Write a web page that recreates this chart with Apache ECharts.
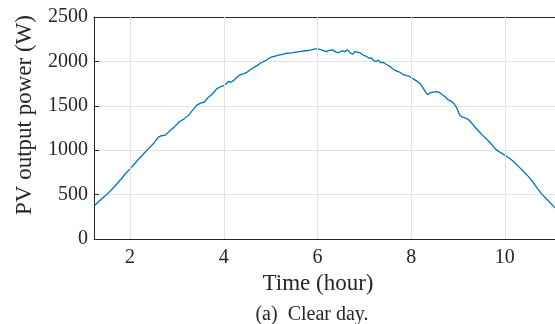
<!DOCTYPE html>
<html>
<head>
<meta charset="utf-8">
<script src="https://cdn.jsdelivr.net/npm/echarts@6/dist/echarts.min.js"></script>
<style>html,body{margin:0;padding:0;background:#fff;}#c{width:555px;height:324px;}</style>
</head>
<body>
<div id="c"></div>
<script>
var xTicks = [2, 4, 6, 8, 10];
var yTicks = [0, 500, 1000, 1500, 2000, 2500];
var times = [1.23,1.35,1.5,1.65,1.8,1.9,2.0,2.1,2.2,2.3,2.4,2.5,2.6,2.65,2.75,2.85,2.95,3.05,3.15,3.25,3.35,3.42,3.5,3.58,3.66,3.75,3.85,3.95,4.0,4.05,4.1,4.15,4.2,4.27,4.35,4.42,4.5,4.6,4.7,4.8,4.88,4.95,5.0,5.03,5.06,5.15,5.25,5.35,5.45,5.55,5.65,5.75,5.85,5.95,6.0,6.05,6.12,6.18,6.25,6.32,6.4,6.46,6.52,6.58,6.64,6.7,6.75,6.8,6.84,6.9,6.96,7.03,7.1,7.15,7.2,7.25,7.3,7.35,7.4,7.47,7.53,7.6,7.67,7.75,7.82,7.9,7.95,8.0,8.07,8.14,8.2,8.25,8.3,8.35,8.4,8.47,8.55,8.6,8.65,8.72,8.78,8.85,8.92,8.97,9.03,9.08,9.15,9.22,9.3,9.38,9.46,9.52,9.6,9.7,9.8,9.9,10.0,10.08,10.16,10.23,10.3,10.4,10.5,10.6,10.7,10.8,10.9,11.0,11.07];
var power = [372,430,500,580,670,735,790,850,910,965,1020,1075,1145,1160,1170,1220,1265,1320,1350,1395,1460,1505,1530,1540,1590,1630,1690,1720,1728,1745,1775,1765,1780,1815,1850,1860,1880,1920,1950,1985,2005,2030,2045,2025,2055,2068,2080,2092,2095,2105,2112,2120,2128,2140,2142,2135,2125,2110,2125,2130,2105,2100,2120,2110,2130,2095,2080,2110,2132,2100,2075,2060,2035,2040,2010,1998,2015,1985,1990,1965,1950,1920,1895,1880,1855,1840,1835,1818,1795,1772,1745,1705,1660,1625,1645,1655,1660,1650,1630,1605,1570,1555,1520,1480,1400,1375,1365,1345,1300,1250,1205,1170,1130,1075,1012,975,945,915,885,850,812,760,705,640,565,500,445,390,350];

var data = times.map(function (t, i) { return [t, power[i]]; });
var FONT = 'Liberation Serif';
var chart = echarts.init(document.getElementById('c'), null, {renderer: 'canvas'});
chart.setOption({
  animation: false,
  backgroundColor: '#ffffff',
  grid: {left: 94, right: 0, top: 17, bottom: 85},
  xAxis: [{
    type: 'value', min: 1.23, max: 11.07, position: 'bottom',
    axisLine: {show: true, onZero: false, lineStyle: {color: '#262626', width: 1}},
    axisTick: {show: true, inside: true, length: 5, customValues: xTicks, lineStyle: {color: '#262626'}},
    axisLabel: {show: true, customValues: xTicks, margin: 9, fontFamily: FONT, fontSize: 20, color: '#262626'},
    splitLine: {show: false}
  }, {
    type: 'value', min: 1.23, max: 11.07, position: 'top',
    axisLine: {show: true, onZero: false, lineStyle: {color: '#262626', width: 1}},
    axisTick: {show: true, inside: true, length: 5, customValues: xTicks, lineStyle: {color: '#262626'}},
    axisLabel: {show: false},
    splitLine: {show: false}
  }],
  yAxis: {
    type: 'value', min: 0, max: 2500, interval: 500,
    axisLine: {show: true, lineStyle: {color: '#262626', width: 1}},
    axisTick: {show: true, inside: true, length: 5, lineStyle: {color: '#262626'}},
    axisLabel: {margin: 6, fontFamily: FONT, fontSize: 20, color: '#262626', formatter: function (v) { return String(v); }},
    splitLine: {show: true, lineStyle: {color: '#e3e3e3', width: 1}}
  },
  series: [{
    type: 'line', data: [], z: 1, silent: true,
    markLine: {
      silent: true, symbol: 'none', label: {show: false},
      lineStyle: {color: '#e3e3e3', type: 'solid', width: 1},
      data: xTicks.map(function (v) { return {xAxis: v}; })
    }
  }, {
    type: 'line', data: data, showSymbol: false, z: 3,
    lineStyle: {color: '#0072BD', width: 1.3},
    itemStyle: {color: '#0072BD'}
  }],
  graphic: [
    {type: 'text', x: 25, y: 115, rotation: Math.PI / 2, style: {text: 'PV output power (W)', font: '23px "Liberation Serif"', fill: '#262626', textAlign: 'center', textVerticalAlign: 'middle'}},
    {type: 'text', x: 318, y: 284, style: {text: 'Time (hour)', font: '23px "Liberation Serif"', fill: '#262626', textAlign: 'center', textVerticalAlign: 'middle'}},
    {type: 'text', x: 312, y: 315, style: {text: '(a)  Clear day.', font: '20px "Liberation Serif"', fill: '#262626', textAlign: 'center', textVerticalAlign: 'middle'}}
  ]
});
</script>
</body>
</html>
